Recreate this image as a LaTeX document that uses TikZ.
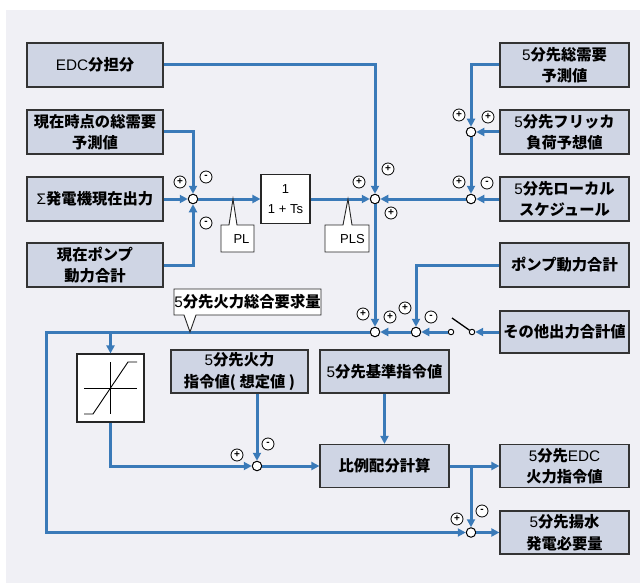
\documentclass[tikz,border=0pt]{standalone}
\usepackage{fontspec}
\setmainfont{Liberation Sans}
\newfontfamily\jp{Noto Sans CJK JP}
\newfontfamily\latf{Liberation Sans}
\newcommand\lt[1]{{\latf\mdseries #1}}
\usetikzlibrary{arrows.meta}
\definecolor{bgc}{HTML}{F0F0F5}
\definecolor{boxc}{HTML}{CFD5E4}
\definecolor{linec}{HTML}{3A7AB8}
\tikzset{
  box/.style={draw=black!80, line width=1.2pt, fill=boxc, minimum height=44pt, align=center, inner sep=0pt,
    font=\jp\bfseries\fontsize{15.3}{21.5}\selectfont},
  wbox/.style={draw=black!85, line width=1.1pt, fill=white, inner sep=0pt},
  sj/.style={circle, draw=black, fill=white, line width=1pt, minimum size=9.5pt, inner sep=0pt},
  sw/.style={circle, draw=black, fill=white, line width=0.9pt, minimum size=5.5pt, inner sep=0pt},
  sg/.style={circle, draw=black, fill=white, line width=0.8pt, minimum size=12pt, inner sep=0pt,
    font=\latf\bfseries\fontsize{10}{10}\selectfont},
  conn/.style={draw=linec, line width=3pt},
  arr/.style={conn, -{Triangle[length=8pt,width=8pt]}},
  callout/.style={draw=black!85, line width=0.9pt, fill=white},
  ctext/.style={inner sep=0pt, font=\latf\fontsize{13}{13}\selectfont}
}
\begin{document}
\begin{tikzpicture}[x=1pt,y=-1pt]
\useasboundingbox (0,0) rectangle (640,583);
\fill[bgc] (6,10) rectangle (640,583);

% left boxes
\node[box, minimum width=136pt] (edc) at (95,65) {\lt{EDC}分担分};
\node[box, minimum width=136pt] (gen) at (95,132) {現在時点の総需要\\予測値};
\node[box, minimum width=136pt] (sig) at (95,199) {\lt{Σ}発電機現在出力};
\node[box, minimum width=136pt] (pmp) at (95,265) {現在ポンプ\\動力合計};

% right boxes
\node[box, minimum width=129pt] (r1) at (564.5,65) {\lt{5}分先総需要\\予測値};
\node[box, minimum width=129pt] (r2) at (564.5,132) {\lt{5}分先フリッカ\\負荷予想値};
\node[box, minimum width=129pt] (r3) at (564.5,199) {\lt{5}分先ローカル\\スケジュール};
\node[box, minimum width=129pt] (r4) at (564.5,265) {ポンプ動力合計};
\node[box, minimum width=129pt, minimum height=42pt] (r5) at (564.5,332) {その他出力合計値};
\node[box, minimum width=129pt, minimum height=43pt] (r6) at (564.5,466) {\lt{5}分先\lt{EDC}\\火力指令値};
\node[box, minimum width=129pt, minimum height=43pt] (r7) at (564.5,532.5) {\lt{5}分先揚水\\発電必要量};

% middle boxes
\node[box, minimum width=129pt, minimum height=43pt] (kj) at (384.5,371.5) {\lt{5}分先基準指令値};
\node[box, minimum width=129pt, minimum height=43pt] (hr) at (384.5,466) {比例配分計算};
\node[box, minimum width=137pt, minimum height=43pt] (ks) at (239.5,371.5) {\lt{5}分先火力\\指令値( 想定値 )};

% transfer function
\node[wbox, minimum width=49pt, minimum height=49pt, align=center, font=\latf\fontsize{13}{20}\selectfont] (tf) at (285.5,199) {1\\1 + Ts};

% saturation block
\node[wbox, minimum width=67pt, minimum height=68pt] (sat) at (110.5,388) {};
\draw[black, line width=0.9pt] (84,388) -- (137,388);
\draw[black, line width=0.9pt] (110,362) -- (110,414);
\draw[black, line width=0.9pt] (84,414) -- (93,414) -- (128,362) -- (137,362);

% summing junctions
\node[sj] (s1) at (193,199) {};
\node[sj] (s2) at (375,199) {};
\node[sj] (s3) at (471,199) {};
\node[sj] (s4) at (471,132) {};
\node[sj] (s5) at (375,332) {};
\node[sj] (s6) at (416,332) {};
\node[sj] (s7) at (257,466) {};
\node[sj] (s8) at (471,532.5) {};

% switch
\node[sw] (swl) at (451,332) {};
\node[sw] (swr) at (472,332) {};
\coordinate (blade) at (452,318);
\draw[black, line width=1.3pt] (swr) -- (blade);

% connectors
\draw[arr] (edc.east) -| (s2);
\draw[arr] (gen.east) -| (s1);
\draw[arr] (sig) -- (s1);
\draw[arr] (pmp.east) -| (s1);
\draw[arr] (s1) -- (tf);
\draw[arr] (tf) -- (s2);
\draw[arr] (r1.west) -| (s4);
\draw[arr] (r2) -- (s4);
\draw[arr] (s4) -- (s3);
\draw[arr] (r3) -- (s3);
\draw[arr] (s3) -- (s2);
\draw[arr] (s2) -- (s5);
\draw[arr] (r4.west) -| (s6);
\draw[arr] (r5) -- (swr);
\draw[arr] (swl) -- (s6);
\draw[arr] (s6) -- (s5);
\coordinate (c1) at (46,332);
\coordinate (c2) at (46,532.5);
\draw[arr] (s5) -- (c1) -- (c2) -- (s8);
\draw[arr] (sat.north |- c1) -- (sat.north);
\draw[arr] (sat.south) |- (s7);
\draw[arr] (ks.south -| s7) -- (s7);
\draw[arr] (s7) -- (hr);
\draw[arr] (kj) -- (hr);
\draw[arr] (hr) -- (r6);
\draw[arr] (hr.east -| s8) -- (s8);
\draw[arr] (s8) -- (r7);

% signs
\node[sg] (g1) at (180,182) {+};
\node[sg] (g2) at (206,177) {-};
\node[sg] (g3) at (206,223) {-};
\node[sg] (g4) at (359,182) {+};
\node[sg] (g5) at (388,169) {+};
\node[sg] (g6) at (391,213) {+};
\node[sg] (g7) at (459,115) {+};
\node[sg] (g8) at (488,117) {+};
\node[sg] (g9) at (459,182) {+};
\node[sg] (g10) at (487,183) {-};
\node[sg] (g11) at (363,314) {+};
\node[sg] (g12) at (390,317) {+};
\node[sg] (g13) at (405,308) {+};
\node[sg] (g14) at (431,317) {-};
\node[sg] (g15) at (237,455) {+};
\node[sg] (g16) at (268,444) {-};
\node[sg] (g17) at (457,519) {+};
\node[sg] (g18) at (482,511) {-};

% callouts
\draw[callout] (221,225) -- (229,225) -- (233,199) -- (237,225) -- (254,225) -- (254,252) -- (221,252) -- cycle;
\node[ctext] (pl) at (241.5,239) {PL};
\draw[callout] (325,225) -- (343,225) -- (348,199) -- (352,225) -- (369,225) -- (369,252) -- (325,252) -- cycle;
\node[ctext] (pls) at (352.5,239) {PLS};
\draw[callout] (174,289) -- (184,289) -- (184,289) -- (321,289) -- (321,315) -- (196,315) -- (190,332) -- (184,315) -- (174,315) -- cycle;
\node[inner sep=0pt, font=\jp\bfseries\fontsize{15.3}{18}\selectfont] (tot) at (247.5,302) {\lt{5}分先火力総合要求量};
\end{tikzpicture}
\end{document}
